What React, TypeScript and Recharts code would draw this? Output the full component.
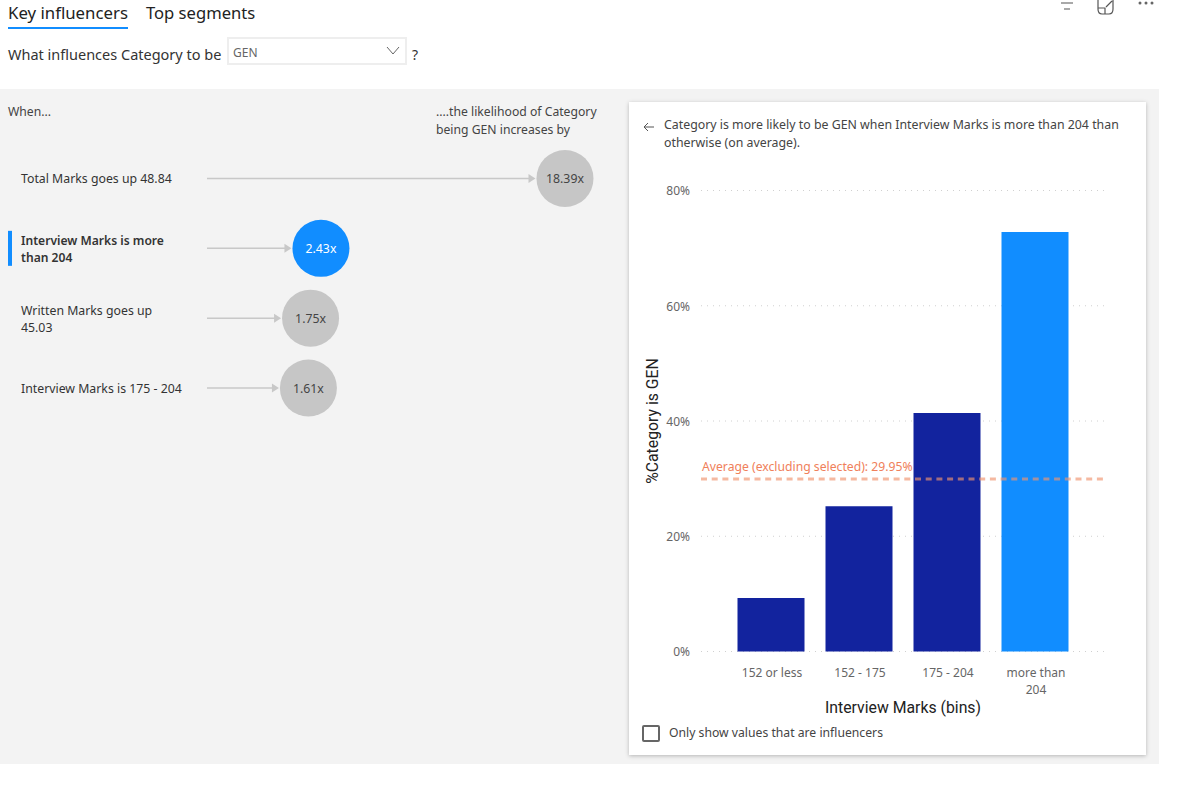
import { Bar, BarChart, CartesianGrid, Cell, Label, ReferenceLine, Scatter, ScatterChart, XAxis, YAxis } from 'recharts';

const FONT = '"Noto Sans", "Open Sans", sans-serif';
const TITLE_FONT = 'Roboto, sans-serif';

const binLabels = ['152 or less', '152 - 175', '175 - 204', 'more than 204'];
const binTickLines = [['152 or less'], ['152 - 175'], ['175 - 204'], ['more than', '204']];
const binShares = [9.3, 25.2, 41.4, 72.8];
const selectedBin = 3;
const averageShare = 29.95;
const shareTicks = [0, 20, 40, 60, 80];

const influencerLabels = [
  ['Total Marks goes up 48.84'],
  ['Interview Marks is more', 'than 204'],
  ['Written Marks goes up', '45.03'],
  ['Interview Marks is 175 - 204'],
];
const influencerValues = [18.39, 2.43, 1.75, 1.61];
const influencerRows = [0, 1, 2, 3];
const selectedInfluencer = 1;

const binData = binLabels.map((bin, i) => ({ bin, share: binShares[i] }));
const influencerData = influencerValues.map((value, i) => ({
  value,
  row: influencerRows[i],
  lines: influencerLabels[i],
  selected: i === selectedInfluencer,
}));

function BinTick({ x, y, payload }: any) {
  const lines = binTickLines[payload.index] || [payload.value];
  const top = y + 25.5;
  return (
    <text x={x + 1.5} y={top} textAnchor="middle" fontFamily={FONT} fontSize={12} fill="#666">
      {lines.map((line, i) => (
        <tspan key={line} x={x + 1.5} dy={i === 0 ? 0 : 17}>
          {line}
        </tspan>
      ))}
    </text>
  );
}

function InfluencerMark({ cx, cy, payload }: any) {
  const r = 28.5;
  const lineH = 17;
  const multi = payload.lines.length > 1;
  const firstY = cy + 4.5 + (multi ? 1 : 0) - ((payload.lines.length - 1) * lineH) / 2;
  const tipX = cx - r - 1;
  return (
    <g>
      {payload.selected && <rect x={8} y={cy - 17.5} width={4} height={35} fill="#118DFF" />}
      {payload.lines.map((line: string, i: number) => (
        <text
          key={line}
          x={21}
          y={firstY + i * lineH}
          fontFamily={FONT}
          fontSize={payload.selected ? 12.1 : 12.3}
          fontWeight={payload.selected ? 600 : 400}
          fill="#333"
        >
          {line}
        </text>
      ))}
      <line x1={207} y1={cy} x2={tipX - 6} y2={cy} stroke="#c8c8c8" strokeWidth={1.5} />
      <path d={`M${tipX - 7} ${cy - 4.5} L${tipX} ${cy} L${tipX - 7} ${cy + 4.5} Z`} fill="#c8c8c8" />
      <circle cx={cx} cy={cy} r={r} fill={payload.selected ? '#118DFF' : '#c6c6c6'} />
      <text
        x={cx}
        y={cy + 4.5}
        textAnchor="middle"
        fontFamily={FONT}
        fontSize={12.3}
        fill={payload.selected ? '#fff' : '#444'}
      >
        {`${payload.value.toFixed(2)}x`}
      </text>
    </g>
  );
}

function AverageLabel({ viewBox }: any) {
  return (
    <text x={viewBox.x + 1} y={viewBox.y - 8} fontFamily={FONT} fontSize={12.2} fill="#F0805A">
      {`Average (excluding selected): ${averageShare}%`}
    </text>
  );
}

const abs = (left: number, top: number, extra: object = {}) => ({
  position: 'absolute' as const,
  left,
  top,
  whiteSpace: 'nowrap' as const,
  fontFamily: FONT,
  ...extra,
});

export default function App() {
  return (
    <div style={{ position: 'absolute', left: 0, top: 0, width: 1200, height: 787, background: '#fff', overflow: 'hidden' }}>
      <div style={abs(8, 0, { fontSize: 16.8, lineHeight: '25px', color: '#222' })}>Key influencers</div>
      <div style={abs(8, 27, { width: 120, height: 2, background: '#118DFF' })} />
      <div style={abs(146, 0, { fontSize: 16.6, lineHeight: '25px', color: '#222' })}>Top segments</div>

      <div style={abs(8, 44, { fontSize: 14.5, lineHeight: '21px', color: '#333' })}>What influences Category to be</div>
      <div style={abs(227, 37, { width: 176, height: 24, border: '2px solid #eee', boxSizing: 'content-box' })} />
      <div style={abs(233, 45, { fontSize: 12, lineHeight: '16px', color: '#666' })}>GEN</div>
      <svg style={abs(386, 46)} width={14} height={10}>
        <path d="M1 1 L7 8 L13 1" fill="none" stroke="#666" strokeWidth={1} />
      </svg>
      <div style={abs(412, 44, { fontSize: 14, lineHeight: '21px', color: '#333' })}>?</div>

      <svg style={abs(1058, 0)} width={100} height={16}>
        <path d="M3 3 H15 M6 9 H12" stroke="#555" strokeWidth={1.2} />
        <path d="M40 0 V9 Q40 14 44 14 H51 Q55 14 55 9 V0 M40 8 H47 V14 M48 7 L54 1" fill="none" stroke="#555" strokeWidth={1.2} />
        <circle cx={82} cy={3} r={1.5} fill="#666" />
        <circle cx={88} cy={3} r={1.5} fill="#666" />
        <circle cx={94} cy={3} r={1.5} fill="#666" />
      </svg>

      <div style={abs(0, 89, { width: 1159, height: 675, background: '#f3f3f3' })} />
      <div style={abs(8, 103, { fontSize: 12.2, lineHeight: '17px', color: '#444' })}>When...</div>
      <div style={abs(436, 103, { fontSize: 12.2, lineHeight: '18px', color: '#444' })}>
        ....the likelihood of Category
        <br />
        being GEN increases by
      </div>

      <div style={abs(0, 89)}>
        <ScatterChart width={620} height={400} margin={{ top: 89.5, right: 30.4, bottom: 101, left: 283.8 }}>
          <XAxis type="number" dataKey="value" domain={[0, 20]} hide />
          <YAxis type="number" dataKey="row" domain={[0, 3]} reversed hide />
          <Scatter data={influencerData} shape={InfluencerMark} isAnimationActive={false} />
        </ScatterChart>
      </div>

      <div style={abs(629, 102, { width: 517, height: 653, background: '#fff', boxShadow: '0 1px 4px rgba(0,0,0,0.25)' })} />
      <svg style={abs(643, 122)} width={12} height={10}>
        <path d="M11 5 H1 M5 1 L1 5 L5 9" fill="none" stroke="#555" strokeWidth={1} />
      </svg>
      <div style={abs(664, 116, { fontSize: 12.35, lineHeight: '18px', color: '#444' })}>
        Category is more likely to be GEN when Interview Marks is more than 204 than
        <br />
        otherwise (on average).
      </div>

      <div style={abs(629, 102)}>
        <BarChart width={517} height={653} data={binData} margin={{ top: 88.5, right: 41, bottom: 0, left: 0 }}>
          <CartesianGrid vertical={false} stroke="#d0d0d0" strokeDasharray="1 5" />
          <XAxis
            dataKey="bin"
            interval={0}
            height={103.5}
            axisLine={false}
            tickLine={false}
            tickSize={0}
            tickMargin={0}
            tick={<BinTick />}
            padding={{ left: 25.5, right: 26.5 }}
          >
            <Label
              value="Interview Marks (bins)"
              position="insideTop"
              offset={50}
              style={{ fontFamily: TITLE_FONT, fontSize: 15.8, fontWeight: 400, fill: '#222' }}
            />
          </XAxis>
          <YAxis
            width={72}
            domain={[0, 80]}
            ticks={shareTicks}
            tickFormatter={(v: number) => `${v}%`}
            axisLine={false}
            tickLine={false}
            tickSize={0}
            tickMargin={11}
            tick={{ fontFamily: FONT, fontSize: 12, fill: '#666', dy: 0.5 }}
          >
            <Label
              value="%Category is GEN"
              angle={-90}
              position="insideLeft"
              offset={23}
              style={{ fontFamily: TITLE_FONT, fontSize: 15.8, fontWeight: 400, fill: '#222', textAnchor: 'middle' }}
            />
          </YAxis>
          <Bar dataKey="share" barSize={67} isAnimationActive={false}>
            {binData.map((d, i) => (
              <Cell key={d.bin} fill={i === selectedBin ? '#118DFF' : '#12239E'} />
            ))}
          </Bar>
          <ReferenceLine y={averageShare} stroke="#F0946F" strokeOpacity={0.65} strokeWidth={3} strokeDasharray="6 4.7">
            <Label content={<AverageLabel />} />
          </ReferenceLine>
        </BarChart>
      </div>

      <div style={abs(642, 725, { width: 14, height: 13, border: '2px solid #666', borderRadius: 2, background: '#fff' })} />
      <div style={abs(669, 724, { fontSize: 12.2, lineHeight: '18px', color: '#444' })}>Only show values that are influencers</div>
    </div>
  );
}
